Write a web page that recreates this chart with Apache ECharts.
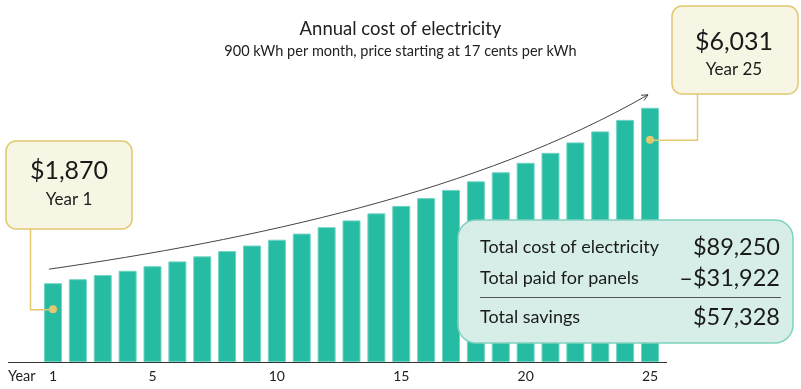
<!DOCTYPE html>
<html><head><meta charset="utf-8">
<script src="https://cdn.jsdelivr.net/npm/echarts@6/dist/echarts.min.js"></script>
<style>html,body{margin:0;padding:0;background:#fff}#c{width:801px;height:389px}</style>
</head><body><div id="c"></div>
<script>
const years = ['1','2','3','4','5','6','7','8','9','10','11','12','13','14','15','16','17','18','19','20','21','22','23','24','25'];
const costs = [1870,1964,2062,2165,2273,2387,2506,2631,2763,2901,3046,3199,3359,3526,3703,3888,4082,4286,4501,4726,4962,5210,5471,5744,6031];
const shownTicks = ['1','5','10','15','20','25'];
const summaryLabels = ['Total cost of electricity','Total paid for panels','Total savings'];
const summaryValues = ['$89,250','\u2013$31,922','$57,328'];
const titleText = 'Annual cost of electricity';
const subText = '900 kWh per month, price starting at 17 cents per kWh';

const FONT = 'Lato, "Noto Sans", sans-serif';
const chart = echarts.init(document.getElementById('c'), null, {renderer:'canvas'});
chart.setOption({
  animation:false,
  title:{text:titleText, subtext:subText, left:'center', top:15, itemGap:5,
    textStyle:{fontFamily:FONT,fontSize:18.5,fontWeight:'normal',color:'#222'},
    subtextStyle:{fontFamily:FONT,fontSize:14.5,color:'#222'}},
  grid:{left:40.56,right:138.56,top:88,bottom:27},
  xAxis:{type:'category',data:years,
    axisLine:{show:false},axisTick:{show:false},
    axisLabel:{interval:(i,v)=>shownTicks.includes(v),margin:7,fontFamily:FONT,fontSize:14,color:'#222'}},
  yAxis:{type:'value',min:0,max:6500,show:false,splitLine:{show:false}},
  series:[{type:'bar',data:costs,barWidth:18,
    itemStyle:{color:'#26bba3',borderColor:'#72d4c2',borderWidth:1}}]
});

const px = (i,v)=>chart.convertToPixel({seriesIndex:0},[i,v]);
const base = px(0,0)[1];
const left0 = 8, right0 = 667;
const p1 = px(0,costs[0]);
const pN = px(costs.length-1,costs[costs.length-1]);

const s = [p1[0]-4, p1[1]-14];
const e = [pN[0]-2, pN[1]-13];
const c1 = [250, s[1]-29];
const c2 = [480, e[1]+97];

const d1 = [p1[0], p1[1]+26];
const dN = [pN[0], pN[1]+32];

const gold = '#e2c86f';
const els = [];
els.push({type:'line',shape:{x1:left0,y1:base+0.5,x2:right0,y2:base+0.5},style:{stroke:'#333',lineWidth:1},z:10});
els.push({type:'text',style:{text:'Year',x:left0,y:base+14,verticalAlign:'middle',font:'14.5px '+FONT,fill:'#222'},z:10});
els.push({type:'bezierCurve',shape:{x1:s[0],y1:s[1],cpx1:c1[0],cpy1:c1[1],cpx2:c2[0],cpy2:c2[1],x2:e[0],y2:e[1]},style:{stroke:'#444',lineWidth:1,fill:null},z:10});
(function(){
  const ang = Math.atan2(e[1]-c2[1], e[0]-c2[0]);
  const L=7, a=0.45;
  els.push({type:'polyline',shape:{points:[
    [e[0]-L*Math.cos(ang-a), e[1]-L*Math.sin(ang-a)], e,
    [e[0]-L*Math.cos(ang+a), e[1]-L*Math.sin(ang+a)]]},style:{stroke:'#444',lineWidth:1,fill:null},z:10});
})();
els.push({type:'polyline',shape:{points:[[30.5,229],[30.5,d1[1]+0.5],[d1[0],d1[1]+0.5]]},style:{stroke:gold,lineWidth:1.5,fill:null},z:11});
els.push({type:'rect',shape:{x:6,y:141,width:126,height:88,r:10},style:{fill:'#f7f5e3',stroke:gold,lineWidth:1.5},z:12});
els.push({type:'text',style:{text:'$'+costs[0].toLocaleString('en-US'),x:69,y:171,align:'center',verticalAlign:'middle',font:'25px '+FONT,fill:'#1a1a1a'},z:13});
els.push({type:'text',style:{text:'Year '+years[0],x:69,y:200,align:'center',verticalAlign:'middle',font:'17px '+FONT,fill:'#1a1a1a'},z:13});
els.push({type:'circle',shape:{cx:d1[0],cy:d1[1],r:4},style:{fill:gold},z:13});
els.push({type:'polyline',shape:{points:[[697.5,94],[697.5,dN[1]+0.5],[dN[0],dN[1]+0.5]]},style:{stroke:gold,lineWidth:1.5,fill:null},z:11});
els.push({type:'rect',shape:{x:672,y:6,width:126,height:88,r:10},style:{fill:'#f7f5e3',stroke:gold,lineWidth:1.5},z:12});
els.push({type:'text',style:{text:'$'+costs[costs.length-1].toLocaleString('en-US'),x:734,y:42,align:'center',verticalAlign:'middle',font:'25px '+FONT,fill:'#1a1a1a'},z:13});
els.push({type:'text',style:{text:'Year '+years[years.length-1],x:734,y:70,align:'center',verticalAlign:'middle',font:'17px '+FONT,fill:'#1a1a1a'},z:13});
els.push({type:'circle',shape:{cx:dN[0],cy:dN[1],r:4},style:{fill:gold},z:13});
els.push({type:'rect',shape:{x:458,y:220,width:335,height:123,r:18},style:{fill:'#d6eee7',stroke:'#7fd2bf',lineWidth:1.5},z:12});
const rowsY = [247,278,317];
summaryLabels.forEach((t,k)=>{
  els.push({type:'text',style:{text:t,x:480,y:rowsY[k],verticalAlign:'middle',font:'18px '+FONT,fill:'#1a1a1a'},z:13});
  els.push({type:'text',style:{text:summaryValues[k],x:780,y:rowsY[k],align:'right',verticalAlign:'middle',font:'23.5px '+FONT,fill:'#1a1a1a'},z:13});
});
els.push({type:'line',shape:{x1:480,y1:297.5,x2:781,y2:297.5},style:{stroke:'#555',lineWidth:1},z:13});
chart.setOption({graphic:{elements:els}});
</script></body></html>
